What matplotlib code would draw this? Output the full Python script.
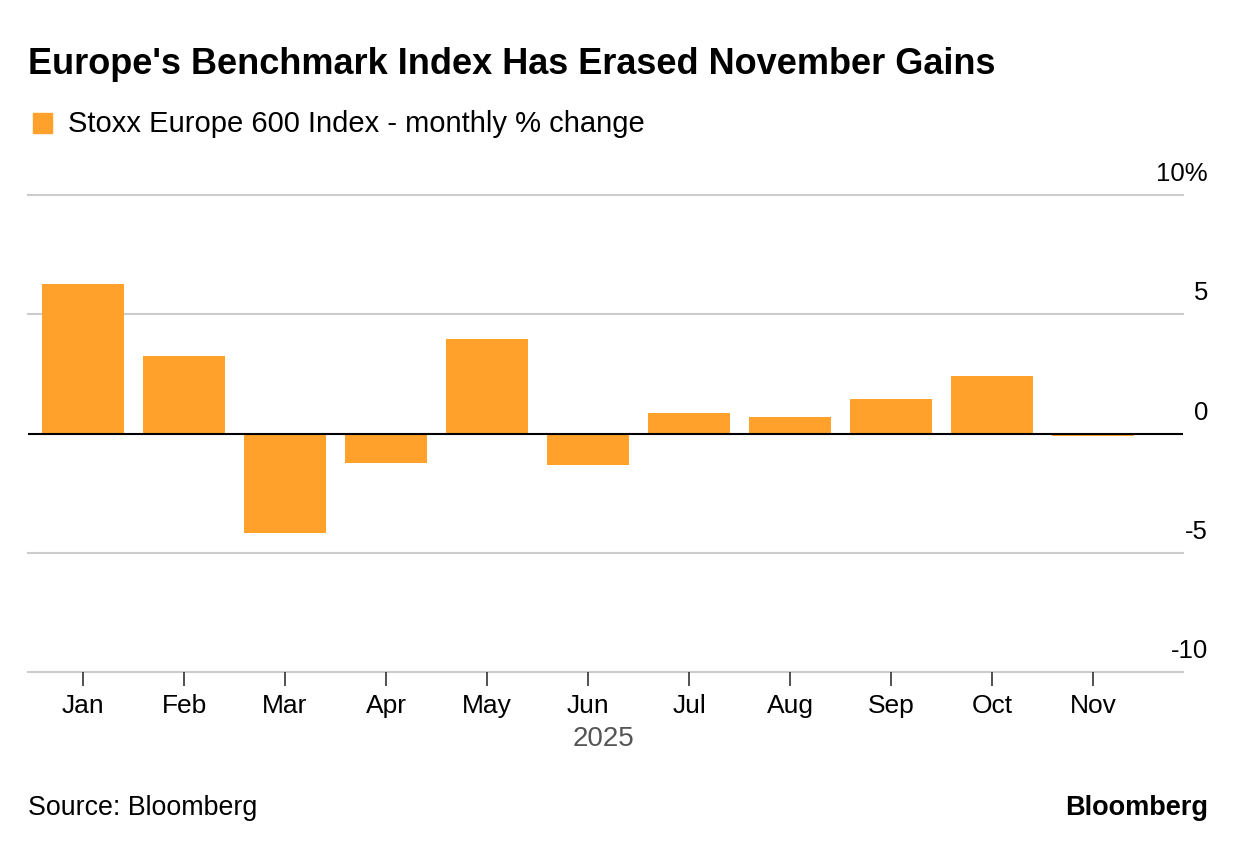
import matplotlib
matplotlib.use("Agg")
import matplotlib.pyplot as plt
from matplotlib.patches import Rectangle

months = ["Jan", "Feb", "Mar", "Apr", "May", "Jun", "Jul", "Aug", "Sep", "Oct", "Nov"]
changes = [6.25, 3.23, -4.19, -1.22, 3.98, -1.34, 0.88, 0.71, 1.43, 2.43, -0.12]
yticks = [-10, -5, 0, 5, 10]
ytick_labels = ["-10", "-5", "0", "5", "10%"]
year_label = "2025"

W, H = 1237, 848
fig = plt.figure(figsize=(W / 100, H / 100), dpi=100)
font = ["Liberation Sans", "DejaVu Sans"]
orange = "#FFA12B"

ax_l, ax_r = 28, 1183
ax_t, ax_b = 195, 672
ax = fig.add_axes([ax_l / W, 1 - ax_b / H, (ax_r - ax_l) / W, (ax_b - ax_t) / H])
x = list(range(len(months)))
ax.bar(x, changes, width=0.81, color=orange, zorder=2)
ax.set_xlim(-0.545, 10.89)
ax.set_ylim(-10, 10)
for s in ax.spines.values():
    s.set_visible(False)
for v in yticks:
    if v == 0:
        ax.axhline(v, color="black", lw=1.5, zorder=3)
    else:
        ax.axhline(v, color="#cccccc", lw=1.5, zorder=1, clip_on=False)
ax.set_yticks([])
ax.set_xticks(x)
ax.set_xticklabels(months, fontsize=19, family=font)
ax.tick_params(axis="x", length=10, width=1.2, color="#333333", pad=6)
for v, lab in zip(yticks, ytick_labels):
    fig.text(1208 / W, 1 - (ax_t + (10 - v) * (ax_b - ax_t) / 20 - 14) / H, lab,
             ha="right", va="baseline", fontsize=18.5, family=font)

fig.text(604 / W, 1 - 746 / H, year_label, ha="center", va="baseline",
         fontsize=20, color="#555555", family=font)

fig.text(28 / W, 1 - 74 / H, "Europe's Benchmark Index Has Erased November Gains",
         fontsize=26, fontweight="bold", family=font, ha="left", va="baseline")
fig.patches.append(Rectangle((33 / W, 1 - 133 / H), 19 / W, 20 / H,
                             transform=fig.transFigure, color=orange))
fig.text(68 / W, 1 - 132 / H, "Stoxx Europe 600 Index - monthly % change",
         fontsize=21, family=font, ha="left", va="baseline")
fig.text(28 / W, 1 - 815 / H, "Source: Bloomberg", fontsize=19.3, family=font,
         ha="left", va="baseline")
fig.text(1208 / W, 1 - 815 / H, "Bloomberg", fontsize=19.5, fontweight="bold",
         family=font, ha="right", va="baseline")

fig.savefig("out.png", dpi=100, facecolor="white")
